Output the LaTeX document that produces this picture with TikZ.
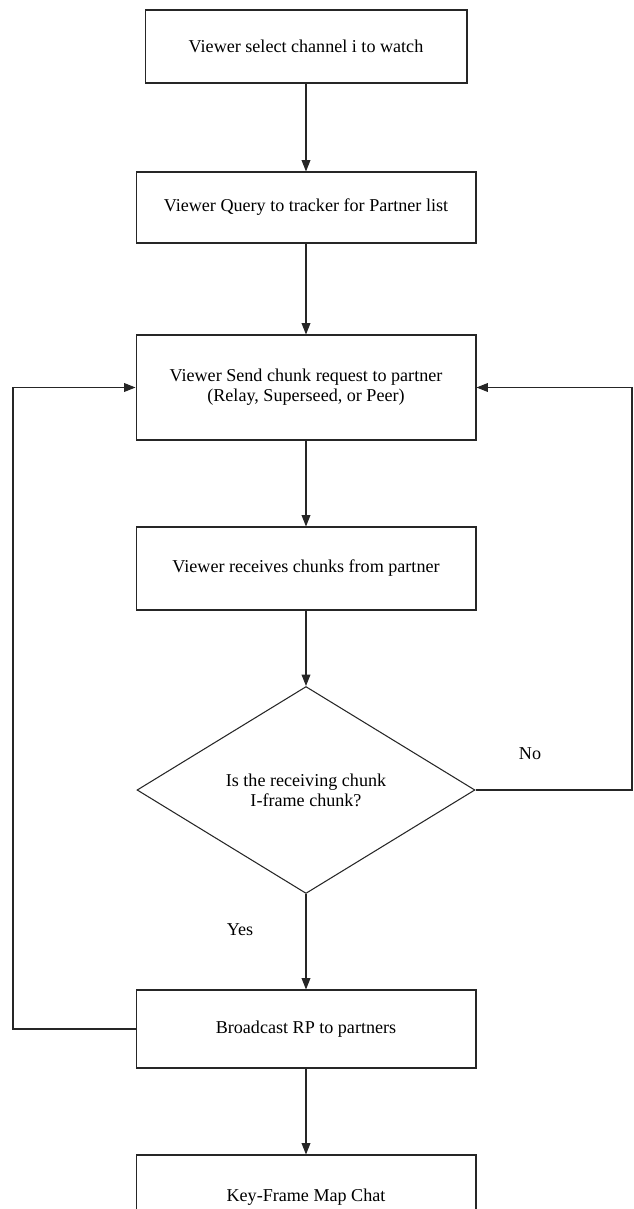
\documentclass[tikz,border=0pt]{standalone}
\usepackage{fontspec}
\setmainfont{Liberation Serif}
\usetikzlibrary{arrows.meta, shapes.geometric}

\begin{document}
\begin{tikzpicture}[
    x=0.02cm, y=-0.02cm,
    stepbox/.style={rectangle, draw=black!85, line width=0.6pt,
                    minimum width=6.8cm, align=center,
                    font=\fontsize{10.3}{11.5}\selectfont},
    dec/.style={diamond, draw=black!85, line width=0.6pt, inner sep=0pt,
                minimum width=6.76cm, minimum height=4.14cm, aspect=1.63,
                align=center, font=\fontsize{10.3}{11.5}\selectfont},
    lbl/.style={font=\fontsize{10.3}{12}\selectfont},
    arr/.style={-{Triangle[length=6.5pt, width=5pt]}, line width=0.6pt, black!85},
]
  \useasboundingbox (0,0) rectangle (633,1209);

  %% ---- main vertical flow, centred at x = 306 ----
  \node[stepbox, minimum width=6.44cm, minimum height=1.46cm] (sel)   at (306, 46.5) {Viewer select channel i to watch};
  \node[stepbox, minimum height=1.42cm] (query) at (306, 207.5) {Viewer Query to tracker for Partner list};
  \node[stepbox, minimum height=2.1cm]  (req)   at (306, 387.5) {Viewer Send chunk request to partner\\(Relay, Superseed, or Peer)};
  \node[stepbox, minimum height=1.66cm] (recv)  at (306, 568.5) {Viewer receives chunks from partner};
  \node[dec]                            (iframe) at (306, 790)  {Is the receiving chunk\\I-frame chunk?};
  \node[stepbox, minimum height=1.56cm] (bcast) at (306, 1029)  {Broadcast RP to partners};
  \node[stepbox, minimum height=1.7cm]  (kmap)  at (306, 1197.5) {Key-Frame Map Chat};

  %% ---- corner points of the two feedback loops ----
  \coordinate (lft) at (13, 387.5);
  \coordinate (rgt) at (632, 387.5);

  %% ---- downward arrows ----
  \draw[arr] (sel.south)   -- (query.north);
  \draw[arr] (query.south) -- (req.north);
  \draw[arr] (req.south)   -- (recv.north);
  \draw[arr] (recv.south)  -- (iframe.north);
  \draw[arr] (iframe.south) -- (bcast.north);
  \draw[arr] (bcast.south) -- (kmap.north);

  %% ---- loops back to the request box ----
  \draw[arr] (bcast.west) -| (lft) -- (req.west);
  \draw[arr] (iframe.east) -| (rgt) -- (req.east);

  %% ---- branch labels ----
  \node[lbl] (yes) at (240, 930) {Yes};
  \node[lbl] (no)  at (530, 754) {No};

\end{tikzpicture}
\end{document}
